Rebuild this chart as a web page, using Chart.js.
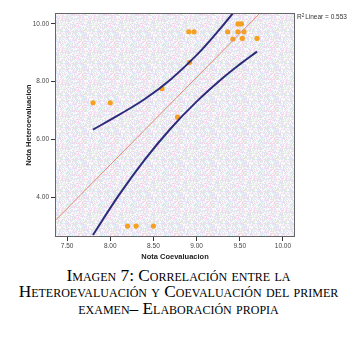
<!DOCTYPE html>
<html>
<head>
<meta charset="utf-8">
<script src="https://cdn.jsdelivr.net/npm/chart.js@4.4.0/dist/chart.umd.min.js"></script>
<style>
    body { margin: 0; background: #fff; width: 357px; height: 338px; overflow: hidden; }
    .chart-box { position: relative; width: 357px; height: 265px; }
    .caption {
        font-family: "Liberation Serif", "Times New Roman", serif;
        font-variant: small-caps;
        font-size: 17.3px;
        line-height: 16.7px;
        text-align: center;
        color: #000;
        margin-top: 2.5px;
        white-space: nowrap;
    }
</style>
</head>
<body>
<div class="chart-box"><canvas id="corrChart" width="357" height="265"></canvas></div>
<div class="caption">Imagen 7: Correlación entre la<br>Heteroevaluación y Coevaluación del primer<br>examen– Elaboración propia</div>

<script>
const coevaluacion = [7.80, 8.00, 8.60, 8.78, 8.91, 8.97, 8.92, 9.36, 9.48, 9.52, 9.48, 9.55, 9.42, 9.53, 9.70, 8.20, 8.30, 8.50];
const heteroevaluacion = [7.27, 7.27, 7.76, 6.77, 9.73, 9.73, 8.67, 9.73, 10.0, 10.0, 9.73, 9.73, 9.48, 9.50, 9.50, 3.0, 3.0, 3.0];

// Linear fit line (end points)
const fitX = [7.30, 10.00];
const fitY = [3.00, 11.18];

// Mean confidence band curves
const upperX = [7.80, 8.10, 8.40, 8.70, 9.00, 9.20, 9.42, 9.70];
const upperY = [6.34, 6.85, 7.40, 8.08, 8.92, 9.58, 10.37, 11.45];
const lowerX = [7.80, 8.10, 8.40, 8.70, 9.00, 9.30, 9.50, 9.70];
const lowerY = [2.69, 4.07, 5.30, 6.38, 7.31, 8.12, 8.60, 9.04];

// Axis ticks
const xTicks = [7.5, 8.0, 8.5, 9.0, 9.5, 10.0];
const yTicks = [4, 6, 8, 10];

const rSquared = '0.553';

function toPoints(xs, ys) {
    return xs.map((x, i) => ({ x: x, y: ys[i] }));
}

// SPSS-like dithered plot background (fixed hash pattern, no randomness)
function makeDither(ctx) {
    const colors = ['#fcfcfc', '#f5d6ec', '#d9e7f8', '#e2f2dc', '#ecdff2', '#f7f7f7'];
    const size = 32;
    const tile = document.createElement('canvas');
    tile.width = size;
    tile.height = size;
    const t = tile.getContext('2d');
    for (let y = 0; y < size; y++) {
        for (let x = 0; x < size; x++) {
            let h = (x * 374761393 + y * 668265263) >>> 0;
            h = ((h ^ (h >>> 13)) * 1274126177) >>> 0;
            h = (h ^ (h >>> 16)) >>> 0;
            t.fillStyle = colors[h % colors.length];
            t.fillRect(x, y, 1, 1);
        }
    }
    return ctx.createPattern(tile, 'repeat');
}

const framePlugin = {
    id: 'frame',
    beforeDatasetsDraw(chart) {
        const { ctx, chartArea: a } = chart;
        ctx.save();
        ctx.fillStyle = makeDither(ctx);
        ctx.fillRect(a.left, a.top, a.right - a.left, a.bottom - a.top);
        ctx.restore();
    },
    afterDraw(chart) {
        const { ctx, chartArea: a } = chart;
        ctx.save();
        ctx.strokeStyle = '#666';
        ctx.lineWidth = 1;
        ctx.strokeRect(a.left + 0.5, a.top + 0.5, a.right - a.left - 1, a.bottom - a.top - 1);

        // R2 note
        ctx.fillStyle = '#333';
        ctx.textBaseline = 'alphabetic';
        ctx.font = '6.5px "Liberation Sans", Arial, sans-serif';
        let x = a.right + 2;
        const y = a.top + 6;
        ctx.fillText('R', x, y);
        x += ctx.measureText('R').width;
        ctx.font = '4.5px "Liberation Sans", Arial, sans-serif';
        ctx.fillText('2', x, y - 2.5);
        x += ctx.measureText('2').width + 1;
        ctx.font = '6.5px "Liberation Sans", Arial, sans-serif';
        ctx.fillText('Linear = ' + rSquared, x, y);
        ctx.restore();
    }
};

const tickFont = { family: '"Liberation Sans", Arial, sans-serif', size: 6.5 };
const titleFont = { family: '"Liberation Sans", Arial, sans-serif', size: 7.5, weight: 'bold' };

new Chart(document.getElementById('corrChart'), {
    type: 'scatter',
    data: {
        datasets: [
            {
                label: 'Límite superior',
                data: toPoints(upperX, upperY),
                showLine: true,
                borderColor: '#2c2b7a',
                borderWidth: 2,
                pointRadius: 0,
                tension: 0.4
            },
            {
                label: 'Límite inferior',
                data: toPoints(lowerX, lowerY),
                showLine: true,
                borderColor: '#2c2b7a',
                borderWidth: 2,
                pointRadius: 0,
                tension: 0.4
            },
            {
                label: 'Ajuste lineal',
                data: toPoints(fitX, fitY),
                showLine: true,
                borderColor: '#e58a7c',
                borderWidth: 1,
                pointRadius: 0
            },
            {
                label: 'Notas',
                data: toPoints(coevaluacion, heteroevaluacion),
                backgroundColor: '#f5a020',
                borderWidth: 0,
                pointRadius: 2.6
            }
        ]
    },
    options: {
        animation: false,
        responsive: false,
        layout: { padding: { left: 0, top: 13, right: 62, bottom: 0 } },
        plugins: {
            legend: { display: false },
            tooltip: { enabled: false }
        },
        scales: {
            x: {
                type: 'linear',
                min: 7.36,
                max: 10.14,
                afterBuildTicks: scale => { scale.ticks = xTicks.map(v => ({ value: v })); },
                afterFit: scale => { scale.height = 28; },
                border: { display: false },
                grid: { drawOnChartArea: false, drawTicks: true, tickLength: 4, color: '#333' },
                ticks: {
                    font: tickFont,
                    color: '#444',
                    padding: 1,
                    maxRotation: 0,
                    callback: v => Number(v).toFixed(2)
                },
                title: {
                    display: true,
                    text: 'Nota Coevaluacion',
                    font: titleFont,
                    color: '#222',
                    padding: { top: 0, bottom: 3.5 }
                }
            },
            y: {
                type: 'linear',
                min: 2.62,
                max: 10.38,
                afterBuildTicks: scale => { scale.ticks = yTicks.map(v => ({ value: v })); },
                afterFit: scale => { scale.width = 55; },
                border: { display: false },
                grid: { drawOnChartArea: false, drawTicks: true, tickLength: 4, color: '#333' },
                ticks: {
                    font: tickFont,
                    color: '#444',
                    padding: 2,
                    callback: v => Number(v).toFixed(2)
                },
                title: {
                    display: true,
                    text: 'Nota Heteroevaluacion',
                    font: titleFont,
                    color: '#222',
                    padding: { top: 24.5, bottom: 0 }
                }
            }
        }
    },
    plugins: [framePlugin]
});
</script>
</body>
</html>
